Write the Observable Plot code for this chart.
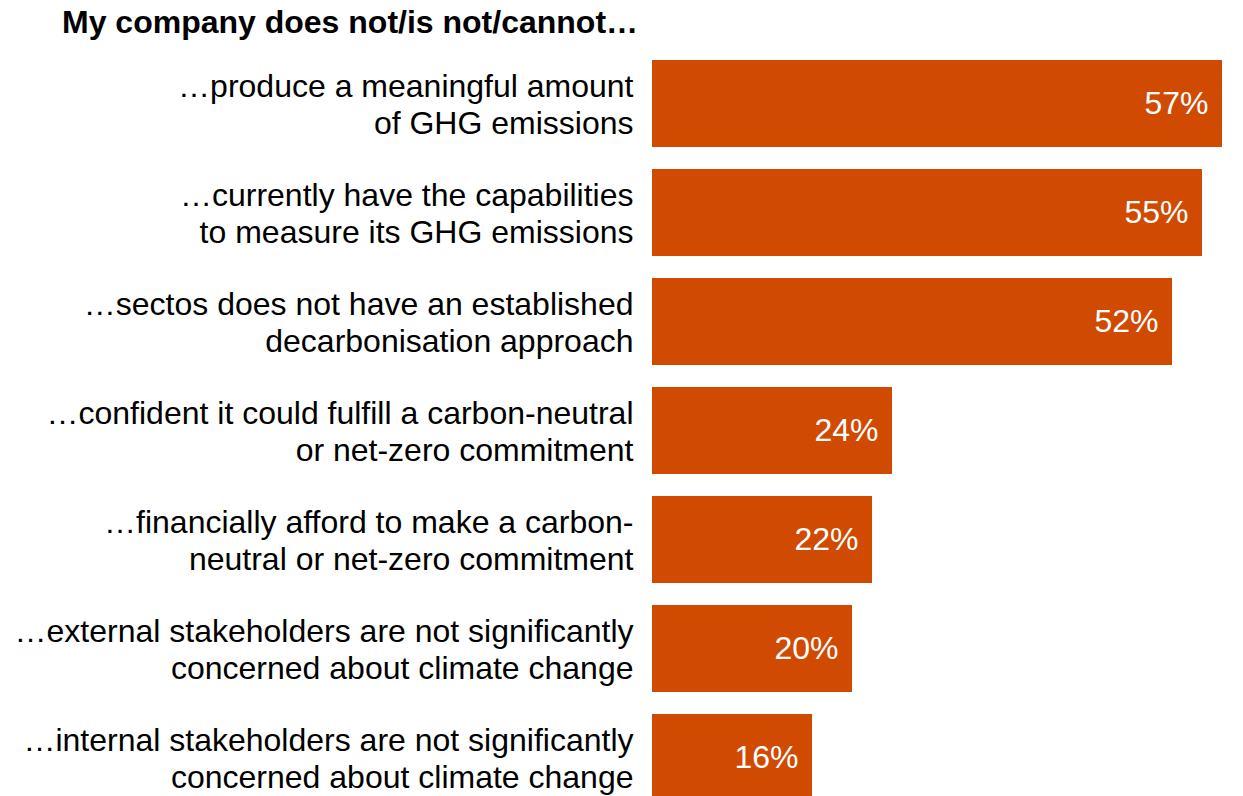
<!DOCTYPE html>
<html>
<head>
<meta charset="utf-8">
<script src="https://cdn.jsdelivr.net/npm/d3@7"></script>
<script src="https://cdn.jsdelivr.net/npm/@observablehq/plot@0.6"></script>
<style>
  html, body { margin: 0; padding: 0; background: #fff; overflow: hidden; }
  body { width: 1243px; height: 796px; font-family: Arial, "Liberation Sans", sans-serif; }
  #title { height: 50px; box-sizing: border-box; padding-left: 62px; padding-top: 6px;
           font-size: 32px; line-height: 32px; font-weight: bold; color: #000; white-space: nowrap; }
  #chart svg { display: block; }
</style>
</head>
<body>
<div id="title">My company does not/is not/cannot…</div>
<div id="chart"></div>
<script>
const titleText = "My company does not/is not/cannot…";
const categories = [
  "…produce a meaningful amount\nof GHG emissions",
  "…currently have the capabilities\nto measure its GHG emissions",
  "…sectos does not have an established\ndecarbonisation approach",
  "…confident it could fulfill a carbon-neutral\nor net-zero commitment",
  "…financially afford to make a carbon-\nneutral or net-zero commitment",
  "…external stakeholders are not significantly\nconcerned about climate change",
  "…internal stakeholders are not significantly\nconcerned about climate change"
];
const values = [57, 55, 52, 24, 22, 20, 16];
const valueLabels = ["57%", "55%", "52%", "24%", "22%", "20%", "16%"];

const data = categories.map((c, i) => ({category: c, value: values[i], label: valueLabels[i]}));

const chart = Plot.plot({
  width: 1243,
  height: 746,
  marginLeft: 652,
  marginRight: 21,
  marginTop: 10,
  marginBottom: 0,
  style: {fontFamily: 'Arial, "Liberation Sans", sans-serif', background: "transparent", overflow: "hidden"},
  x: {domain: [0, 57], range: [652, 1222], axis: null},
  y: {type: "band", domain: categories, range: [10, 751.2], paddingInner: 0.2, paddingOuter: 0, label: null},
  marks: [
    Plot.barX(data, {y: "category", x: "value", fill: "#D04A02"}),
    Plot.axisY({tickSize: 0, tickPadding: 19, fontSize: 32, lineHeight: 1.16, fill: "#000", label: null}),
    Plot.text(data, {y: "category", x: "value", text: "label", textAnchor: "end", dx: -14, fill: "#fff", fontSize: 32})
  ]
});
document.getElementById("chart").appendChild(chart);
</script>
</body>
</html>
